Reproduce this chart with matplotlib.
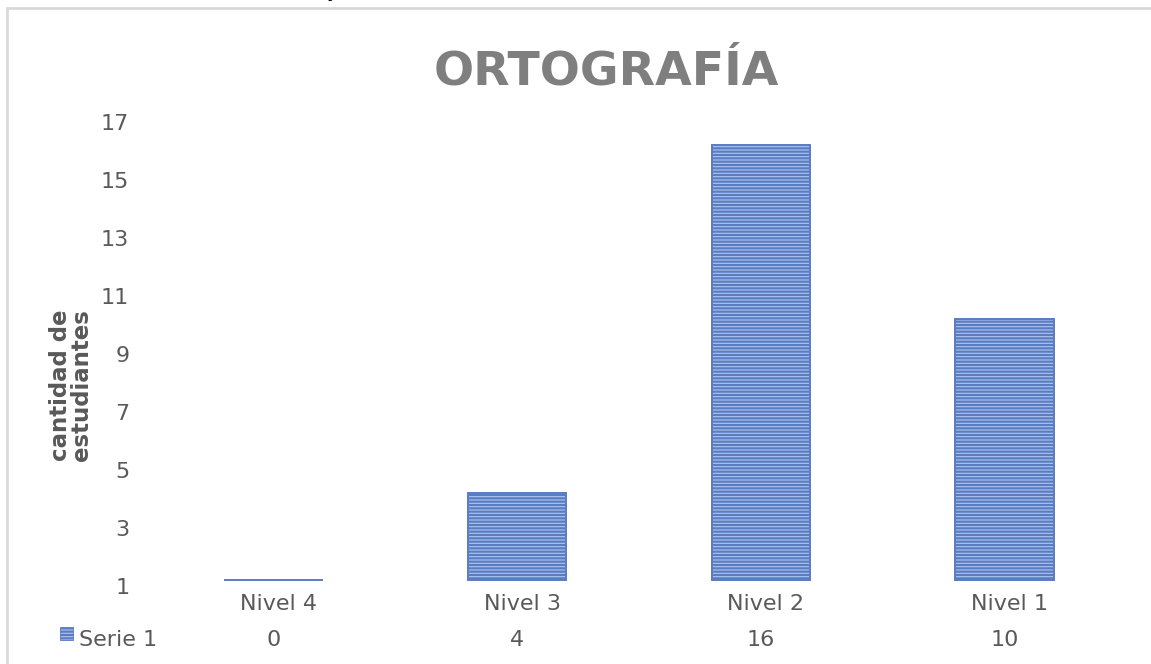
import matplotlib.pyplot as plt
import matplotlib.transforms as mtransforms
from matplotlib.patches import Rectangle
import numpy as np

categories = ["Nivel 4", "Nivel 3", "Nivel 2", "Nivel 1"]
values = [0, 4, 16, 10]
series_name = "Serie 1"
yticks = [1, 3, 5, 7, 9, 11, 13, 15, 17]
title = "ORTOGRAFÍA"
ylabel = "cantidad de\nestudiantes"

W, H = 1151, 664
bar_face = "#aec6f2"
bar_line = "#4472c4"
text_gray = "#595959"

plt.rcParams["hatch.color"] = bar_line
plt.rcParams["hatch.linewidth"] = 1.6
plt.rcParams["font.family"] = ["DejaVu Sans"]

fig = plt.figure(figsize=(W / 100, H / 100), dpi=100)

# light border of the chart area
fig.patches.append(Rectangle((7 / W, -0.05), 1.1, 1 - 8 / H + 0.05,
                             transform=fig.transFigure, fill=False,
                             edgecolor="#d9d9d9", linewidth=2))

# cropped glyph at the very top of the picture
fig.text(333 / W, 1 + 3 / H, "y", fontsize=15, color="black",
         ha="center", va="baseline")

ax = fig.add_axes([151.5 / W, (H - 580) / H, 975 / W, 464 / H])
ymin, ymax = 1, 17
x = np.arange(len(categories))
vals = np.array(values, dtype=float)
bars = ax.bar(x, np.maximum(vals - ymin, 0), bottom=ymin, width=0.405,
              color=bar_face, edgecolor="#5a7cc0", linewidth=1.4,
              hatch="-----")
for b in bars:
    b.set_clip_on(False)
ax.set_xlim(-0.5, len(categories) - 0.5)
ax.set_ylim(ymin, ymax)
ax.set_yticks(yticks)
ax.tick_params(axis="y", length=0, pad=16, labelsize=16, labelcolor=text_gray)
ax.set_xticks([])
for s in ax.spines.values():
    s.set_visible(False)
shift = mtransforms.ScaledTranslation(0, -6 / 100, fig.dpi_scale_trans)
for lab in ax.get_yticklabels():
    lab.set_transform(lab.get_transform() + shift)

# data table under the plot
trans = mtransforms.blended_transform_factory(ax.transData, fig.transFigure)
for xi, cat, v in zip(x, categories, values):
    ax.text(xi + 0.02, 1 - 604 / H, cat, transform=trans, ha="center",
            va="center", fontsize=16, color=text_gray)
    ax.text(xi, 1 - 640 / H, str(v), transform=trans, ha="center",
            va="center", fontsize=16, color=text_gray)
fig.patches.append(Rectangle((60 / W, 1 - 640 / H), 13 / W, 13 / H,
                             transform=fig.transFigure, facecolor=bar_face,
                             edgecolor="#5a7cc0", linewidth=0.6, hatch="-----"))
fig.text(79 / W, 1 - 640 / H, series_name, ha="left", va="center",
         fontsize=16, color=text_gray)

fig.text(606 / W, 1 - 72 / H, title, ha="center", va="center",
         fontsize=34, fontweight="bold", color="#7f7f7f")
fig.text(71 / W, 1 - 385 / H, ylabel, ha="center", va="center",
         rotation=90, fontsize=16.5, fontweight="bold", color=text_gray,
         linespacing=0.85)

fig.savefig("out.png", dpi=100)
